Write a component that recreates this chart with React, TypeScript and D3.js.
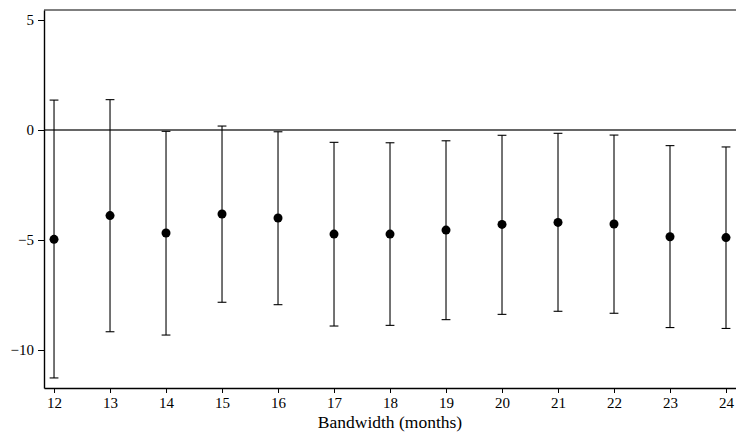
import React, { useEffect, useRef } from 'react';
import * as d3 from 'd3';

// Bandwidth (months) and estimates with 95% CI
const bandwidths = [12, 13, 14, 15, 16, 17, 18, 19, 20, 21, 22, 23, 24];
const estimates = [-4.97, -3.89, -4.68, -3.82, -4.0, -4.73, -4.73, -4.55, -4.29, -4.2, -4.27, -4.85, -4.89];
const upperCI = [1.36, 1.38, -0.06, 0.18, -0.08, -0.56, -0.58, -0.49, -0.24, -0.15, -0.23, -0.71, -0.77];
const lowerCI = [-11.27, -9.17, -9.32, -7.83, -7.94, -8.91, -8.88, -8.62, -8.38, -8.24, -8.33, -8.98, -9.02];
const yTicks = [5, 0, -5, -10];
const xLabel = 'Bandwidth (months)';

export default function App() {
  const svgRef = useRef<SVGSVGElement>(null);

  useEffect(() => {
    const width = 736;
    const height = 434;
    const margin = { top: 10, right: -4, bottom: 46, left: 44 };
    const innerW = width - margin.left - margin.right;
    const innerH = height - margin.top - margin.bottom;
    const font = '"Liberation Serif", "Times New Roman", Times, serif';

    const svg = d3.select(svgRef.current);
    svg.selectAll('*').remove();
    svg.attr('width', width).attr('height', height);

    const g = svg.append('g').attr('transform', `translate(${margin.left},${margin.top})`);

    const x = d3.scaleLinear().domain([11.821, 24.25]).range([0, innerW]);
    const y = d3.scaleLinear().domain([5.455, -11.727]).range([0, innerH]);

    const data = bandwidths.map((b, i) => ({ b, est: estimates[i], hi: upperCI[i], lo: lowerCI[i] }));

    // Top border of the plot region
    g.append('line').attr('x1', 0).attr('x2', innerW + 10).attr('y1', 0).attr('y2', 0)
      .attr('stroke', '#000').attr('stroke-width', 1.2);

    // Zero reference line
    g.append('line').attr('x1', 0).attr('x2', innerW + 10).attr('y1', y(0)).attr('y2', y(0))
      .attr('stroke', '#333').attr('stroke-width', 1.3);

    // Error bars
    const bars = g.selectAll('.bar').data(data).join('g').attr('class', 'bar');
    bars.append('line')
      .attr('x1', d => x(d.b)).attr('x2', d => x(d.b))
      .attr('y1', d => y(d.hi)).attr('y2', d => y(d.lo))
      .attr('stroke', '#000').attr('stroke-width', 1.1);
    bars.append('line')
      .attr('x1', d => x(d.b) - 4.4).attr('x2', d => x(d.b) + 4.4)
      .attr('y1', d => y(d.hi)).attr('y2', d => y(d.hi))
      .attr('stroke', '#000').attr('stroke-width', 1.1);
    bars.append('line')
      .attr('x1', d => x(d.b) - 4.4).attr('x2', d => x(d.b) + 4.4)
      .attr('y1', d => y(d.lo)).attr('y2', d => y(d.lo))
      .attr('stroke', '#000').attr('stroke-width', 1.1);

    // Points
    g.selectAll('.dot').data(data).join('circle').attr('class', 'dot')
      .attr('cx', d => x(d.b)).attr('cy', d => y(d.est)).attr('r', 4.5)
      .attr('fill', '#000');

    // Axes
    const xAxis = g.append('g').attr('transform', `translate(0,${innerH})`)
      .call(d3.axisBottom(x).tickValues(bandwidths).tickSize(5).tickSizeOuter(0).tickFormat(d3.format('d')));
    const yAxis = g.append('g')
      .call(d3.axisLeft(y).tickValues(yTicks).tickSize(6).tickSizeOuter(0)
        .tickFormat(d => (+d < 0 ? '\u2212' + Math.abs(+d) : String(d))));

    [xAxis, yAxis].forEach(a => {
      a.attr('font-family', font);
      a.select('.domain').attr('stroke', '#000').attr('stroke-width', 1.4);
      a.selectAll('.tick line').attr('stroke', '#000').attr('stroke-width', 1);
      a.selectAll('.tick text').attr('font-family', font).attr('font-size', 15).attr('fill', '#000');
    });
    xAxis.selectAll('.tick text').attr('dy', '0.71em').attr('y', 9);
    yAxis.selectAll('.tick text').attr('x', -10);

    // Axis title
    g.append('text')
      .attr('x', x(18)).attr('y', innerH + 40)
      .attr('text-anchor', 'middle').attr('font-family', font).attr('font-size', 17.5).attr('fill', '#000')
      .text(xLabel);
  }, []);

  return (
    <div style={{ position: 'absolute', left: 0, top: 0, width: 736, height: 434, background: '#fff' }}>
      <svg ref={svgRef} style={{ display: 'block' }} />
    </div>
  );
}
